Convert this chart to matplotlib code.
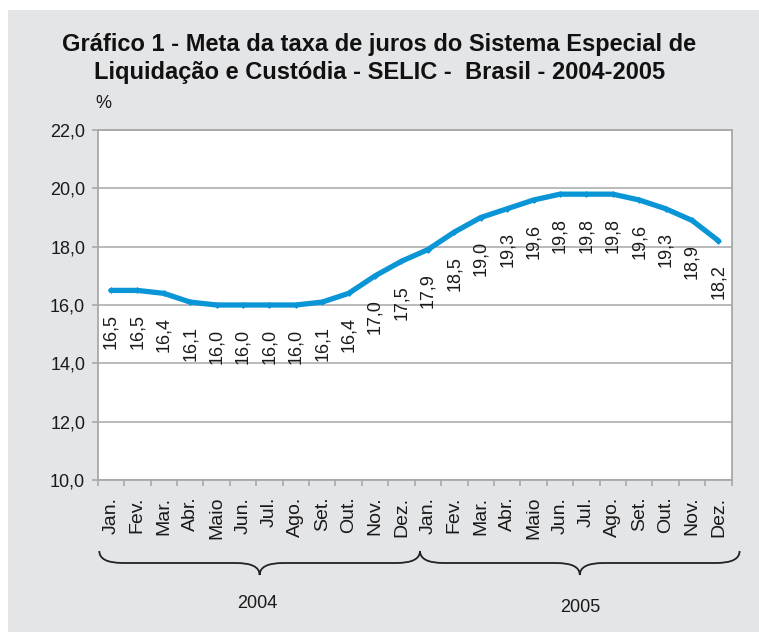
import matplotlib
matplotlib.use("Agg")
import matplotlib.pyplot as plt
from matplotlib.patches import Rectangle, PathPatch
from matplotlib.path import Path
from matplotlib.transforms import blended_transform_factory
from matplotlib import font_manager

plt.rcParams['font.family'] = ['Liberation Sans', 'DejaVu Sans']

months = ["Jan.", "Fev.", "Mar.", "Abr.", "Maio", "Jun.", "Jul.", "Ago.", "Set.", "Out.", "Nov.", "Dez."]
years = ["2004", "2005"]
values_2004 = [16.5, 16.5, 16.4, 16.1, 16.0, 16.0, 16.0, 16.0, 16.1, 16.4, 17.0, 17.5]
values_2005 = [17.9, 18.5, 19.0, 19.3, 19.6, 19.8, 19.8, 19.8, 19.6, 19.3, 18.9, 18.2]
yticks = [10.0, 12.0, 14.0, 16.0, 18.0, 20.0, 22.0]

values = values_2004 + values_2005
labels = months + months
x = list(range(len(values)))

names = {f.name for f in font_manager.fontManager.ttflist}
title_family = ['Liberation Sans Narrow', 'Liberation Sans'] if 'Liberation Sans Narrow' in names else ['Liberation Sans']
title_size = 18 if 'Liberation Sans Narrow' in names else 17

W, H = 759, 632
fig = plt.figure(figsize=(W / 100, H / 100), dpi=100, facecolor='white')
bg = '#e4e5e7'
fig.patches.append(Rectangle((8 / W, 0), 1, 1 - 10 / H, transform=fig.transFigure,
                             facecolor=bg, edgecolor='none', zorder=-10))

ax = fig.add_axes([97.7 / W, 1 - 480 / H, (731.7 - 97.7) / W, 350 / H])
ax.set_facecolor('white')
line_color = '#0a96d6'
ax.plot(x, values, color=line_color, lw=3.8, marker='D', markersize=3.5,
        markeredgewidth=0, solid_capstyle='round', solid_joinstyle='round', zorder=3)

for xi, v in zip(x, values):
    ax.annotate(f"{v:.1f}".replace('.', ','), (xi, v), xytext=(0, -17),
                textcoords='offset points', rotation=90, ha='center', va='top',
                fontsize=13, color='#1a1a1a', zorder=4)

ax.set_xlim(-0.5, len(values) - 0.5)
ax.set_ylim(10, 22)
ax.set_yticks(yticks)
ax.set_yticklabels([f"{t:.1f}".replace('.', ',') for t in yticks], fontsize=13, color='#1a1a1a')
ax.set_xticks([i + 0.5 for i in range(-1, len(values))], minor=False)
ax.set_xticklabels([])
ax.set_xticks(x, minor=True)
ax.set_xticklabels(labels, minor=True, rotation=90, fontsize=14, color='#1a1a1a', va='top')
ax.tick_params(axis='x', which='major', length=4, color='#a8a8a8', width=1.2)
ax.tick_params(axis='x', which='minor', length=0, pad=12)
ax.tick_params(axis='y', length=4, color='#a8a8a8', width=1.2, pad=5)
ax.grid(axis='y', color='#b4b4b4', lw=1.3)
ax.set_axisbelow(True)
for s in ax.spines.values():
    s.set_color('#a8a8a8')
    s.set_linewidth(1.3)

# title
fig.text(0.5, 1 - 45 / H, "Gráfico 1 - Meta da taxa de juros do Sistema Especial de",
         ha='center', va='center', fontsize=title_size, fontweight='bold', family=title_family, color='#111111')
fig.text(0.5, 1 - 72 / H, "Liquidação e Custódia - SELIC -  Brasil - 2004-2005",
         ha='center', va='center', fontsize=title_size, fontweight='bold', family=title_family, color='#111111')
fig.text(103 / W, 1 - 103 / H, "%", fontsize=13, ha='center', va='center', color='#1a1a1a')

# braces
tr = blended_transform_factory(ax.transData, ax.transAxes)
def brace(x0, x1, ytop, ymid, ytip):
    xm = (x0 + x1) / 2
    d = 0.9
    verts = [(x0, ytop), (x0, ymid), (x0 + d, ymid),
             (xm - d, ymid), (xm, ymid), (xm, ytip),
             (xm, ymid), (xm + d, ymid),
             (x1 - d, ymid), (x1, ymid), (x1, ytop)]
    codes = [Path.MOVETO, Path.CURVE3, Path.CURVE3,
             Path.LINETO, Path.CURVE3, Path.CURVE3,
             Path.CURVE3, Path.CURVE3,
             Path.LINETO, Path.CURVE3, Path.CURVE3]
    p = PathPatch(Path(verts, codes), transform=tr, facecolor='none', edgecolor='#222222',
                  lw=1.3, clip_on=False)
    ax.add_patch(p)

yt = -(551 - 480) / 350
ym = -(563 - 480) / 350
yp = -(575 - 480) / 350
brace(-0.44, 11.7, yt, ym, yp)
brace(11.7, 23.8, yt, ym, yp)
ax.text(5.55, -(603 - 480) / 350, years[0], transform=tr, ha='center', va='center', fontsize=13, color='#1a1a1a')
ax.text(17.75, -(607 - 480) / 350, years[1], transform=tr, ha='center', va='center', fontsize=13, color='#1a1a1a')

fig.savefig("out.png", dpi=100, facecolor=fig.get_facecolor())
